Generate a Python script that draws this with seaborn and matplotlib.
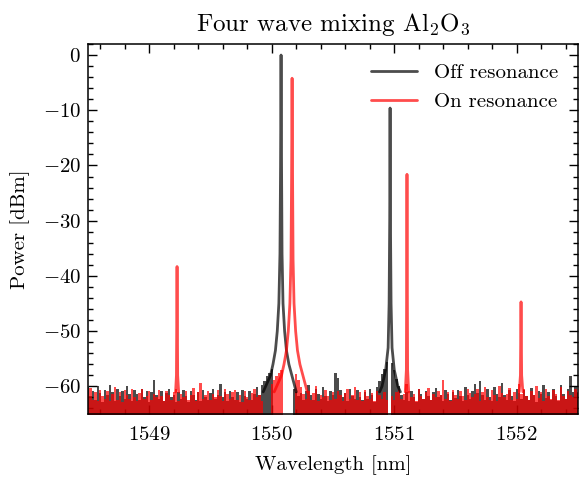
import numpy as np
import pandas as pd
import matplotlib
matplotlib.use("Agg")
import matplotlib.pyplot as plt
from matplotlib.lines import Line2D
from matplotlib.ticker import AutoMinorLocator
import seaborn as sns

# ---------------- data ----------------
series_labels = ["Off resonance", "On resonance"]
series_colors = ["black", "red"]

# noise floor upper envelope, sampled every 0.02 nm from 1548.50 to 1552.50
noise_wl = np.linspace(1548.5, 1552.5, 201)
noise_off = [
    -60.2, -61.8, -60.8, -62.5, -60.0, -61.2, -62.8, -60.6, -61.5, -59.8,
    -61.0, -62.6, -60.4, -61.8, -60.9, -62.2, -59.9, -61.4, -62.7, -60.6,
    -61.3, -62.4, -60.5, -61.9, -60.8, -62.8, -61.0, -58.9, -61.6, -62.3,
    -60.9, -62.6, -61.2, -60.4, -62.0, -61.5, -62.8, -61.0, -62.2, -60.7,
    -61.8, -62.9, -60.9, -61.5, -62.4, -61.0, -62.6, -60.6, -61.9, -62.5,
    -61.2, -60.4, -62.3, -61.6, -59.6, -62.0, -61.1, -62.7, -60.8, -61.9,
    -62.4, -61.0, -62.8, -60.6, -61.7, -62.2, -60.9, -62.5, -61.3, -60.2,
    -61.6, -59.8, -59.0, -58.2, -57.5, -56.8, -70.0, -70.0, -70.0, -70.0,
    -70.0, -70.0, -70.0, -70.0, -60.5, -61.0, -61.8, -61.2, -62.4, -60.8,
    -59.8, -61.6, -62.5, -60.4, -61.4, -62.2, -60.2, -61.8, -62.6, -60.9,
    -61.5, -57.6, -58.4, -60.6, -62.0, -61.2, -62.6, -60.5, -61.8, -62.3,
    -60.6, -61.9, -62.5, -61.0, -62.2, -60.4, -61.6, -62.8, -60.2, -59.0,
    -57.8, -56.8, -55.5, -70.0, -55.8, -57.0, -58.6, -60.0, -61.5, -62.4,
    -61.0, -62.6, -60.8, -61.9, -62.8, -60.5, -61.4, -62.2, -60.9, -61.7,
    -62.5, -61.1, -60.3, -62.0, -61.6, -62.7, -60.7, -61.3, -62.4, -61.0,
    -62.1, -60.6, -61.8, -62.6, -60.2, -61.5, -62.3, -60.8, -59.6, -61.2,
    -59.0, -61.6, -62.4, -60.5, -61.9, -62.6, -60.1, -61.3, -62.0, -59.4,
    -61.5, -62.5, -60.7, -61.8, -62.7, -60.4, -61.2, -62.3, -60.6, -61.8,
    -62.4, -60.3, -61.6, -62.8, -60.9, -61.4, -59.7, -62.1, -61.0, -62.5,
    -60.5, -61.7, -62.6, -59.8, -61.3, -62.2, -60.4, -58.2, -61.0, -60.0,
    -61.2]
noise_on = [
    -61.5, -60.3, -62.4, -61.0, -62.7, -60.6, -61.8, -62.3, -60.9, -62.6,
    -61.4, -60.2, -62.5, -61.0, -62.8, -60.7, -61.6, -62.2, -60.5, -61.9,
    -62.6, -61.2, -60.4, -62.3, -61.7, -60.8, -62.5, -61.4, -62.0, -60.6,
    -61.8, -62.7, -60.9, -61.5, -62.4, -61.0, -60.5, -62.6, -61.3, -62.0,
    -60.8, -62.4, -61.5, -60.3, -62.7, -61.1, -59.3, -62.2, -61.6, -60.9,
    -62.5, -61.3, -62.0, -60.7, -61.8, -62.6, -60.5, -61.4, -62.3, -61.0,
    -60.6, -62.4, -61.5, -62.8, -60.8, -61.9, -62.5, -61.2, -60.4, -62.0,
    -61.5, -62.6, -70.0, -70.0, -70.0, -59.5, -58.8, -58.2, -57.6, -57.0,
    -70.0, -70.0, -70.0, -70.0, -70.0, -57.8, -58.8, -60.2, -61.4, -62.2,
    -60.9, -62.4, -61.2, -60.0, -62.6, -61.5, -62.0, -60.6, -61.8, -62.5,
    -61.0, -62.3, -60.8, -61.6, -62.7, -61.2, -60.4, -62.2, -61.5, -60.2,
    -62.4, -61.0, -62.6, -60.7, -61.8, -62.3, -61.2, -62.7, -60.9, -61.6,
    -62.2, -61.0, -62.5, -70.0, -61.8, -62.4, -61.0, -60.6, -62.2, -61.4,
    -59.6, -60.8, -62.0, -61.3, -62.6, -60.4, -61.7, -62.3, -61.0, -60.3,
    -62.5, -61.4, -62.0, -60.8, -61.6, -58.9, -62.2, -61.0, -62.6, -60.7,
    -61.5, -62.3, -60.9, -61.8, -62.5, -60.5, -61.2, -62.0, -61.4, -60.4,
    -62.6, -61.0, -60.2, -61.9, -62.4, -60.6, -61.5, -62.7, -60.0, -61.2,
    -62.0, -61.4, -60.3, -62.5, -61.0, -62.2, -59.6, -61.3, -60.5, -61.8,
    -62.4, -60.8, -61.5, -59.9, -62.1, -61.0, -62.6, -60.4, -61.7, -62.3,
    -60.6, -61.4, -62.5, -60.2, -61.8, -62.2, -60.9, -61.5, -62.0, -60.4,
    -61.0]

# spectral peaks (wavelength nm, power dBm)
off_pump_wl = [1549.93, 1549.96, 1549.99, 1550.01, 1550.03, 1550.045, 1550.058, 1550.067,
               1550.072, 1550.076, 1550.080, 1550.084, 1550.092, 1550.105, 1550.12,
               1550.14, 1550.17, 1550.20]
off_pump_dbm = [-61, -59.5, -58, -56, -53.5, -50, -45, -36, -20, 0, -20, -36, -45, -50,
                -53.5, -56, -58.5, -61]
off_idler_wl = [1550.88, 1550.90, 1550.93, 1550.95, 1550.958, 1550.963, 1550.966,
                1550.969, 1550.974, 1550.982, 1551.00, 1551.03, 1551.05]
off_idler_dbm = [-61, -60, -57, -53, -45, -30, -9.6, -30, -45, -53, -57, -60, -61]

on_pump_wl = [1550.02, 1550.05, 1550.08, 1550.10, 1550.12, 1550.135, 1550.148, 1550.157,
              1550.162, 1550.166, 1550.170, 1550.174, 1550.182, 1550.195, 1550.21,
              1550.23, 1550.26, 1550.29]
on_pump_dbm = [-61, -59.5, -58, -56, -53.5, -50, -45, -37, -22, -4.2, -22, -37, -45, -50,
               -53.5, -56, -58.5, -61]
on_side1_wl = [1549.215, 1549.222, 1549.227, 1549.232, 1549.24]
on_side1_dbm = [-61, -58, -38.3, -58, -61]
on_side2_wl = [1551.09, 1551.099, 1551.104, 1551.109, 1551.118]
on_side2_dbm = [-61, -57, -21.6, -57, -61]
on_side3_wl = [1552.02, 1552.030, 1552.035, 1552.040, 1552.05]
on_side3_dbm = [-61, -58, -44.7, -58, -61]

off_peaks = pd.DataFrame({
    "wl": off_pump_wl + off_idler_wl,
    "dbm": off_pump_dbm + off_idler_dbm,
    "peak": ["pump"] * len(off_pump_wl) + ["idler"] * len(off_idler_wl),
})
on_peaks = pd.DataFrame({
    "wl": on_pump_wl + on_side1_wl + on_side2_wl + on_side3_wl,
    "dbm": on_pump_dbm + on_side1_dbm + on_side2_dbm + on_side3_dbm,
    "peak": (["pump"] * len(on_pump_wl) + ["s1"] * len(on_side1_wl)
             + ["s2"] * len(on_side2_wl) + ["s3"] * len(on_side3_wl)),
})

# ---------------- style ----------------
sns.set_theme(style="ticks")
plt.rcParams.update({
    "font.family": ["cmr10", "DejaVu Serif"],
    "mathtext.fontset": "cm",
    "axes.formatter.use_mathtext": True,
    "axes.unicode_minus": True,
    "text.color": "black",
    "axes.labelcolor": "black",
    "xtick.labelcolor": "black", "ytick.labelcolor": "black",
    "xtick.direction": "in", "ytick.direction": "in",
    "xtick.top": True, "ytick.right": True,
    "xtick.major.size": 6.5, "ytick.major.size": 6.5,
    "xtick.minor.size": 3.4, "ytick.minor.size": 3.4,
    "xtick.major.width": 1.0, "ytick.major.width": 1.0,
    "xtick.minor.width": 1.0, "ytick.minor.width": 1.0,
    "xtick.major.pad": 9, "ytick.major.pad": 5,
    "axes.linewidth": 1.1,
    "axes.edgecolor": "black",
    "xtick.color": "black", "ytick.color": "black",
})

fig = plt.figure(figsize=(5.79, 4.78), dpi=100)
ax = fig.add_axes([88 / 579, 1 - 414 / 478, 490 / 579, 370 / 478])

alpha = 0.7
lw = 2.0
# off resonance
ax.fill_between(noise_wl, -70, noise_off, step="mid", color=series_colors[0],
                alpha=alpha, linewidth=0)
sns.lineplot(data=off_peaks, x="wl", y="dbm", units="peak", estimator=None,
             color=series_colors[0], alpha=alpha, lw=lw, ax=ax, legend=False, sort=False)
# on resonance
ax.fill_between(noise_wl, -70, noise_on, step="mid", color=series_colors[1],
                alpha=alpha, linewidth=0)
sns.lineplot(data=on_peaks, x="wl", y="dbm", units="peak", estimator=None,
             color=series_colors[1], alpha=alpha, lw=lw, ax=ax, legend=False, sort=False)

ax.set_xlim(1548.5, 1552.5)
ax.set_ylim(-65, 2)
ax.set_xticks([1549, 1550, 1551, 1552])
ax.set_yticks([0, -10, -20, -30, -40, -50, -60])
ax.xaxis.set_minor_locator(AutoMinorLocator(5))
ax.yaxis.set_minor_locator(AutoMinorLocator(5))
ax.tick_params(which="both", top=True, right=True, direction="in", labelsize=15,
               labelcolor="black")
ax.ticklabel_format(axis="x", useOffset=False)

ax.set_xlabel("Wavelength [nm]", fontsize=15, labelpad=8, color="black")
ax.set_ylabel("Power [dBm]", fontsize=15, labelpad=9, color="black")
ax.set_title(r"Four wave mixing Al$_2$O$_3$", fontsize=18, pad=9, color="black")

handles = [Line2D([], [], color=c, alpha=alpha, lw=2) for c in series_colors]
ax.legend(handles, series_labels, loc="upper right", frameon=False, fontsize=15,
          handlelength=2.2, borderaxespad=0.55, labelspacing=0.5, labelcolor="black")

fig.savefig("out.png", dpi=100)
